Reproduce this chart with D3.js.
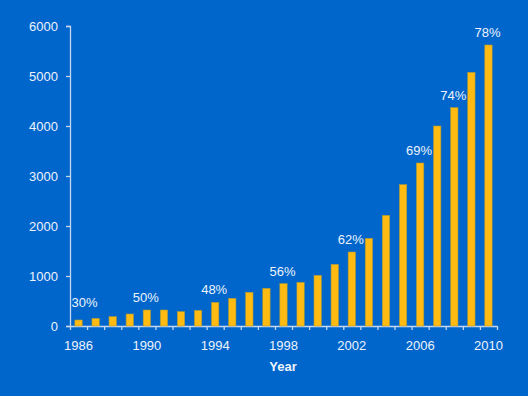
<!DOCTYPE html>
<html>
<head>
<meta charset="utf-8">
<script src="https://cdn.jsdelivr.net/npm/d3@7"></script>
<style>
  html, body { margin: 0; padding: 0; background: #0066CC; }
  svg { display: block; }
  text { font-family: "Liberation Sans", Arial, sans-serif; }
</style>
</head>
<body>
<svg width="528" height="396"></svg>
<script>
// years on the x axis
var years = d3.range(1986, 2011);
// bar values
var counts = [120, 153, 187, 240, 320, 320, 287, 313, 473, 553, 673, 753, 847, 873,
              1013, 1233, 1480, 1753, 2213, 2827, 3260, 4000, 4367, 5073, 5620];
// percentage labels and the years they sit over
var pctYears = [1986, 1990, 1994, 1998, 2002, 2006, 2008, 2010];
var pctLabels = ["30%", "50%", "48%", "56%", "62%", "69%", "74%", "78%"];
// axis tick labels
var yearTicks = [1986, 1990, 1994, 1998, 2002, 2006, 2010];
var yTicks = [0, 1000, 2000, 3000, 4000, 5000, 6000];

var axisColor = "#C5D6EE", textColor = "#EEF3FA";

var svg = d3.select("svg"),
    margin = { top: 26, right: 31, bottom: 70, left: 70 },
    width = +svg.attr("width") - margin.left - margin.right,
    height = +svg.attr("height") - margin.top - margin.bottom;

svg.append("rect").attr("width", 528).attr("height", 396).attr("fill", "#0066CC");

var g = svg.append("g").attr("transform", "translate(" + margin.left + "," + margin.top + ")");

var x = d3.scaleBand()
  .domain(years)
  .range([0, width])
  .paddingInner(0.57)
  .paddingOuter(0.285);

// boundaries between bands, for the tick marks
var xEdge = d3.scaleLinear().domain([0, years.length]).range([0, width]);

var y = d3.scaleLinear().domain([0, 6000]).range([height, 0]);

// y axis
var yAxis = g.append("g")
  .call(d3.axisLeft(y).tickValues(yTicks).tickFormat(d3.format("d")).tickSize(4).tickSizeOuter(4).tickPadding(8));
yAxis.selectAll("path, line").attr("stroke", axisColor).attr("stroke-width", 1.3);
yAxis.selectAll("text").attr("fill", textColor).style("font-size", "13px");

// x axis tick marks at band edges
var xTickAxis = g.append("g")
  .attr("transform", "translate(0," + height + ")")
  .call(d3.axisBottom(xEdge).tickValues(d3.range(0, years.length + 1)).tickFormat("").tickSize(4).tickSizeOuter(0));
xTickAxis.selectAll("path, line").attr("stroke", axisColor).attr("stroke-width", 1.3);

// x axis labels at band centers
var xLabelAxis = g.append("g")
  .attr("transform", "translate(0," + height + ")")
  .call(d3.axisBottom(x).tickValues(yearTicks).tickSize(0).tickPadding(15));
xLabelAxis.select(".domain").remove();
xLabelAxis.selectAll("text").attr("fill", textColor).style("font-size", "13px");

// x axis title
g.append("text")
  .attr("x", width / 2 - 0.5)
  .attr("y", height + 45)
  .attr("text-anchor", "middle")
  .attr("fill", textColor)
  .style("font-size", "13px")
  .style("font-weight", "bold")
  .text("Year");

// bars
g.selectAll(".bar")
  .data(years)
  .enter().append("rect")
  .attr("class", "bar")
  .attr("x", function (d) { return x(d); })
  .attr("y", function (d, i) { return y(counts[i]); })
  .attr("width", x.bandwidth())
  .attr("height", function (d, i) { return height - y(counts[i]); })
  .attr("fill", "#FFBB11")
  .attr("stroke", "#A8983A")
  .attr("stroke-width", 0.6);

// percentage labels
g.selectAll(".pct")
  .data(pctYears)
  .enter().append("text")
  .attr("class", "pct")
  .attr("x", function (d, i) { return x(d) + x.bandwidth() / 2 + (i === 0 ? 6 : -1); })
  .attr("y", function (d) { return y(counts[years.indexOf(d)]) - (d === 1986 ? 13 : 8); })
  .attr("text-anchor", "middle")
  .attr("fill", textColor)
  .style("font-size", "13px")
  .text(function (d, i) { return pctLabels[i]; });
</script>
</body>
</html>
